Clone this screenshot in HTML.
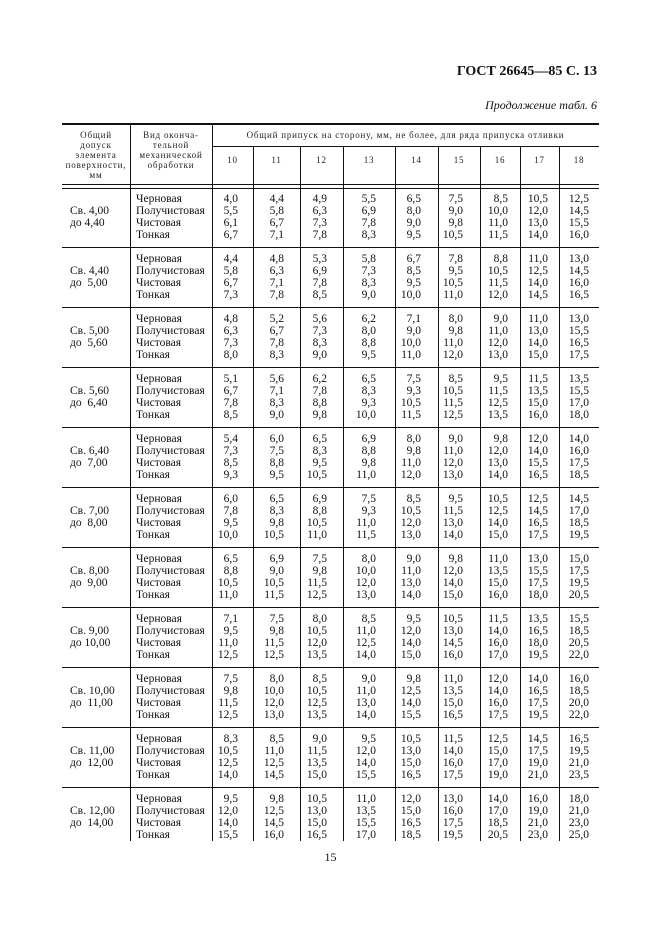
<!DOCTYPE html>
<html><head><meta charset="utf-8"><style>
body{margin:0;width:661px;height:936px;background:#fff;position:relative;font-family:"Liberation Serif",serif;color:#111;overflow:hidden}
.a{position:absolute}
.h{position:absolute;background:#111;height:1px}
.v{position:absolute;background:#111;width:1px}
.b{position:absolute;left:0;width:661px;height:60px;font-size:11.5px;line-height:12px}
.b div{position:absolute;top:0;white-space:nowrap}
.l{left:70px;top:12px!important}
.t{left:136px}
.c1{left:198px;width:40px;text-align:right}
.c2{left:244px;width:40px;text-align:right}
.c3{left:287px;width:40px;text-align:right}
.c4{left:336px;width:40px;text-align:right}
.c5{left:381px;width:40px;text-align:right}
.c6{left:423px;width:40px;text-align:right}
.c7{left:468px;width:40px;text-align:right}
.c8{left:508px;width:40px;text-align:right}
.c9{left:549px;width:40px;text-align:right}
.hd{position:absolute;font-size:9px;line-height:10px;letter-spacing:0.8px;text-align:center;color:#222}
</style></head><body>
<div class="a" style="right:64px;top:64px;font-weight:bold;font-size:14px">ГОСТ 26645—85 С. 13</div>
<div class="a" style="right:64px;top:98px;font-style:italic;font-size:12px">Продолжение табл. 6</div>

<div class="h" style="left:62px;width:537px;top:123px;height:2px"></div>
<div class="h" style="left:212px;width:387px;top:146px"></div>
<div class="h" style="left:62px;width:537px;top:184px"></div>
<div class="h" style="left:62px;width:537px;top:188px"></div>
<div class="v" style="left:130px;top:124px;height:717px"></div>
<div class="v" style="left:212px;top:124px;height:717px"></div>
<div class="v" style="left:253px;top:146px;height:695px"></div>
<div class="v" style="left:300px;top:146px;height:695px"></div>
<div class="v" style="left:343px;top:146px;height:695px"></div>
<div class="v" style="left:395px;top:146px;height:695px"></div>
<div class="v" style="left:438px;top:146px;height:695px"></div>
<div class="v" style="left:480px;top:146px;height:695px"></div>
<div class="v" style="left:520px;top:146px;height:695px"></div>
<div class="v" style="left:559px;top:146px;height:695px"></div>

<div class="h" style="left:62px;width:537px;top:247px"></div>
<div class="h" style="left:62px;width:537px;top:307px"></div>
<div class="h" style="left:62px;width:537px;top:367px"></div>
<div class="h" style="left:62px;width:537px;top:427px"></div>
<div class="h" style="left:62px;width:537px;top:487px"></div>
<div class="h" style="left:62px;width:537px;top:547px"></div>
<div class="h" style="left:62px;width:537px;top:607px"></div>
<div class="h" style="left:62px;width:537px;top:667px"></div>
<div class="h" style="left:62px;width:537px;top:727px"></div>
<div class="h" style="left:62px;width:537px;top:787px"></div>

<div class="hd" style="left:62px;width:68px;top:130px">Общий<br>допуск<br>элемента<br>поверхности,<br>мм</div>
<div class="hd" style="left:130px;width:82px;top:130px">Вид оконча-<br>тельной<br>механической<br>обработки</div>
<div class="hd" style="left:212px;width:387px;top:130px">Общий припуск на сторону, мм, не более, для ряда припуска отливки</div>
<div class="hd" style="left:212px;width:41px;top:155px">10</div>
<div class="hd" style="left:253px;width:47px;top:155px">11</div>
<div class="hd" style="left:300px;width:43px;top:155px">12</div>
<div class="hd" style="left:343px;width:52px;top:155px">13</div>
<div class="hd" style="left:395px;width:43px;top:155px">14</div>
<div class="hd" style="left:438px;width:42px;top:155px">15</div>
<div class="hd" style="left:480px;width:40px;top:155px">16</div>
<div class="hd" style="left:520px;width:39px;top:155px">17</div>
<div class="hd" style="left:559px;width:40px;top:155px">18</div>

<div class="b" style="top:193px"><div class="l">Св. 4,00<br>до 4,40</div><div class="t">Черновая<br>Получистовая<br>Чистовая<br>Тонкая</div>
<div class="c1">4,0<br>5,5<br>6,1<br>6,7</div><div class="c2">4,4<br>5,8<br>6,7<br>7,1</div><div class="c3">4,9<br>6,3<br>7,3<br>7,8</div><div class="c4">5,5<br>6,9<br>7,8<br>8,3</div><div class="c5">6,5<br>8,0<br>9,0<br>9,5</div><div class="c6">7,5<br>9,0<br>9,8<br>10,5</div><div class="c7">8,5<br>10,0<br>11,0<br>11,5</div><div class="c8">10,5<br>12,0<br>13,0<br>14,0</div><div class="c9">12,5<br>14,5<br>15,5<br>16,0</div></div>

<div class="b" style="top:253px"><div class="l">Св. 4,40<br>до &nbsp;5,00</div><div class="t">Черновая<br>Получистовая<br>Чистовая<br>Тонкая</div>
<div class="c1">4,4<br>5,8<br>6,7<br>7,3</div><div class="c2">4,8<br>6,3<br>7,1<br>7,8</div><div class="c3">5,3<br>6,9<br>7,8<br>8,5</div><div class="c4">5,8<br>7,3<br>8,3<br>9,0</div><div class="c5">6,7<br>8,5<br>9,5<br>10,0</div><div class="c6">7,8<br>9,5<br>10,5<br>11,0</div><div class="c7">8,8<br>10,5<br>11,5<br>12,0</div><div class="c8">11,0<br>12,5<br>14,0<br>14,5</div><div class="c9">13,0<br>14,5<br>16,0<br>16,5</div></div>

<div class="b" style="top:313px"><div class="l">Св. 5,00<br>до &nbsp;5,60</div><div class="t">Черновая<br>Получистовая<br>Чистовая<br>Тонкая</div>
<div class="c1">4,8<br>6,3<br>7,3<br>8,0</div><div class="c2">5,2<br>6,7<br>7,8<br>8,3</div><div class="c3">5,6<br>7,3<br>8,3<br>9,0</div><div class="c4">6,2<br>8,0<br>8,8<br>9,5</div><div class="c5">7,1<br>9,0<br>10,0<br>11,0</div><div class="c6">8,0<br>9,8<br>11,0<br>12,0</div><div class="c7">9,0<br>11,0<br>12,0<br>13,0</div><div class="c8">11,0<br>13,0<br>14,0<br>15,0</div><div class="c9">13,0<br>15,5<br>16,5<br>17,5</div></div>

<div class="b" style="top:373px"><div class="l">Св. 5,60<br>до &nbsp;6,40</div><div class="t">Черновая<br>Получистовая<br>Чистовая<br>Тонкая</div>
<div class="c1">5,1<br>6,7<br>7,8<br>8,5</div><div class="c2">5,6<br>7,1<br>8,3<br>9,0</div><div class="c3">6,2<br>7,8<br>8,8<br>9,8</div><div class="c4">6,5<br>8,3<br>9,3<br>10,0</div><div class="c5">7,5<br>9,3<br>10,5<br>11,5</div><div class="c6">8,5<br>10,5<br>11,5<br>12,5</div><div class="c7">9,5<br>11,5<br>12,5<br>13,5</div><div class="c8">11,5<br>13,5<br>15,0<br>16,0</div><div class="c9">13,5<br>15,5<br>17,0<br>18,0</div></div>

<div class="b" style="top:433px"><div class="l">Св. 6,40<br>до &nbsp;7,00</div><div class="t">Черновая<br>Получистовая<br>Чистовая<br>Тонкая</div>
<div class="c1">5,4<br>7,3<br>8,5<br>9,3</div><div class="c2">6,0<br>7,5<br>8,8<br>9,5</div><div class="c3">6,5<br>8,3<br>9,5<br>10,5</div><div class="c4">6,9<br>8,8<br>9,8<br>11,0</div><div class="c5">8,0<br>9,8<br>11,0<br>12,0</div><div class="c6">9,0<br>11,0<br>12,0<br>13,0</div><div class="c7">9,8<br>12,0<br>13,0<br>14,0</div><div class="c8">12,0<br>14,0<br>15,5<br>16,5</div><div class="c9">14,0<br>16,0<br>17,5<br>18,5</div></div>

<div class="b" style="top:493px"><div class="l">Св. 7,00<br>до &nbsp;8,00</div><div class="t">Черновая<br>Получистовая<br>Чистовая<br>Тонкая</div>
<div class="c1">6,0<br>7,8<br>9,5<br>10,0</div><div class="c2">6,5<br>8,3<br>9,8<br>10,5</div><div class="c3">6,9<br>8,8<br>10,5<br>11,0</div><div class="c4">7,5<br>9,3<br>11,0<br>11,5</div><div class="c5">8,5<br>10,5<br>12,0<br>13,0</div><div class="c6">9,5<br>11,5<br>13,0<br>14,0</div><div class="c7">10,5<br>12,5<br>14,0<br>15,0</div><div class="c8">12,5<br>14,5<br>16,5<br>17,5</div><div class="c9">14,5<br>17,0<br>18,5<br>19,5</div></div>

<div class="b" style="top:553px"><div class="l">Св. 8,00<br>до &nbsp;9,00</div><div class="t">Черновая<br>Получистовая<br>Чистовая<br>Тонкая</div>
<div class="c1">6,5<br>8,8<br>10,5<br>11,0</div><div class="c2">6,9<br>9,0<br>10,5<br>11,5</div><div class="c3">7,5<br>9,8<br>11,5<br>12,5</div><div class="c4">8,0<br>10,0<br>12,0<br>13,0</div><div class="c5">9,0<br>11,0<br>13,0<br>14,0</div><div class="c6">9,8<br>12,0<br>14,0<br>15,0</div><div class="c7">11,0<br>13,5<br>15,0<br>16,0</div><div class="c8">13,0<br>15,5<br>17,5<br>18,0</div><div class="c9">15,0<br>17,5<br>19,5<br>20,5</div></div>

<div class="b" style="top:613px"><div class="l">Св. 9,00<br>до 10,00</div><div class="t">Черновая<br>Получистовая<br>Чистовая<br>Тонкая</div>
<div class="c1">7,1<br>9,5<br>11,0<br>12,5</div><div class="c2">7,5<br>9,8<br>11,5<br>12,5</div><div class="c3">8,0<br>10,5<br>12,0<br>13,5</div><div class="c4">8,5<br>11,0<br>12,5<br>14,0</div><div class="c5">9,5<br>12,0<br>14,0<br>15,0</div><div class="c6">10,5<br>13,0<br>14,5<br>16,0</div><div class="c7">11,5<br>14,0<br>16,0<br>17,0</div><div class="c8">13,5<br>16,5<br>18,0<br>19,5</div><div class="c9">15,5<br>18,5<br>20,5<br>22,0</div></div>

<div class="b" style="top:673px"><div class="l">Св. 10,00<br>до &nbsp;11,00</div><div class="t">Черновая<br>Получистовая<br>Чистовая<br>Тонкая</div>
<div class="c1">7,5<br>9,8<br>11,5<br>12,5</div><div class="c2">8,0<br>10,0<br>12,0<br>13,0</div><div class="c3">8,5<br>10,5<br>12,5<br>13,5</div><div class="c4">9,0<br>11,0<br>13,0<br>14,0</div><div class="c5">9,8<br>12,5<br>14,0<br>15,5</div><div class="c6">11,0<br>13,5<br>15,0<br>16,5</div><div class="c7">12,0<br>14,0<br>16,0<br>17,5</div><div class="c8">14,0<br>16,5<br>17,5<br>19,5</div><div class="c9">16,0<br>18,5<br>20,0<br>22,0</div></div>

<div class="b" style="top:733px"><div class="l">Св. 11,00<br>до &nbsp;12,00</div><div class="t">Черновая<br>Получистовая<br>Чистовая<br>Тонкая</div>
<div class="c1">8,3<br>10,5<br>12,5<br>14,0</div><div class="c2">8,5<br>11,0<br>12,5<br>14,5</div><div class="c3">9,0<br>11,5<br>13,5<br>15,0</div><div class="c4">9,5<br>12,0<br>14,0<br>15,5</div><div class="c5">10,5<br>13,0<br>15,0<br>16,5</div><div class="c6">11,5<br>14,0<br>16,0<br>17,5</div><div class="c7">12,5<br>15,0<br>17,0<br>19,0</div><div class="c8">14,5<br>17,5<br>19,0<br>21,0</div><div class="c9">16,5<br>19,5<br>21,0<br>23,5</div></div>

<div class="b" style="top:793px"><div class="l">Св. 12,00<br>до &nbsp;14,00</div><div class="t">Черновая<br>Получистовая<br>Чистовая<br>Тонкая</div>
<div class="c1">9,5<br>12,0<br>14,0<br>15,5</div><div class="c2">9,8<br>12,5<br>14,5<br>16,0</div><div class="c3">10,5<br>13,0<br>15,0<br>16,5</div><div class="c4">11,0<br>13,5<br>15,5<br>17,0</div><div class="c5">12,0<br>15,0<br>16,5<br>18,5</div><div class="c6">13,0<br>16,0<br>17,5<br>19,5</div><div class="c7">14,0<br>17,0<br>18,5<br>20,5</div><div class="c8">16,0<br>19,0<br>21,0<br>23,0</div><div class="c9">18,0<br>21,0<br>23,0<br>25,0</div></div>

<div class="a" style="left:0;width:661px;text-align:center;top:850px;font-size:12px">15</div>
</body></html>
